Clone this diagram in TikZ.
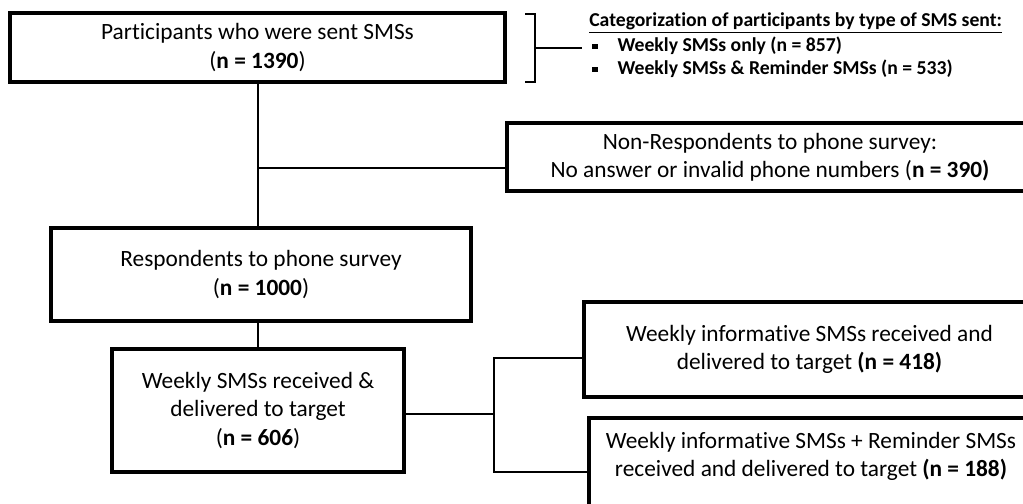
\documentclass[tikz,border=0pt]{standalone}
\usepackage{fontspec}
\setmainfont{Carlito}[Ligatures=NoCommon]
\usetikzlibrary{positioning}
\newcommand{\pxu}{0.025cm}
\newcommand{\sqb}{\rule[0.3ex]{0.55ex}{0.55ex}}
\tikzset{
  box/.style={draw, line width=2.9pt, align=center, inner sep=0pt, font=\fontsize{16.6}{20}\selectfont},
  boxtext/.style={align=center, inner sep=0pt, font=\fontsize{16.6}{20}\selectfont},
  link/.style={line width=2.1pt},
  legend/.style={anchor=west, inner sep=0pt, font=\fontsize{14}{16}\selectfont\bfseries}
}
\begin{document}
\begin{tikzpicture}[x=\pxu, y=-\pxu]
  \useasboundingbox (0,0) rectangle (1023,504);
  \clip (0,0) rectangle (1023,504);

  % Boxes
  \node[box, minimum width=495*\pxu, minimum height=69*\pxu] (sent) at (257.5,47.5)
    {Participants who were sent SMSs\\(\textbf{n = 1390})};
  \node[box, minimum width=526*\pxu, minimum height=68*\pxu] (nonresp) at (770,157)
    {Non-Respondents to phone survey:\\No answer or invalid phone numbers (\textbf{n = 390)}};
  \node[box, minimum width=420*\pxu, minimum height=93*\pxu] (resp) at (261,274.5)
    {Respondents to phone survey\\(\textbf{n = 1000})};
  \node[box, minimum width=292*\pxu, minimum height=123*\pxu] (weekly) at (258,410.5)
    {Weekly SMSs received \&\\delivered to target\\(\textbf{n = 606})};
  \node[box, minimum width=451*\pxu, minimum height=95*\pxu] (info) at (809.5,349.5)
    {Weekly informative SMSs received and\\delivered to target \textbf{(n = 418)}};
  \node[box, minimum width=448*\pxu, minimum height=130*\pxu, anchor=north west] (remind) at (587,416) {};
  \node[boxtext] (remindtxt) at (811,456)
    {Weekly informative SMSs + Reminder SMSs\\received and delivered to target \textbf{(n = 188)}};

  % Connectors
  \coordinate (split) at (258,168);
  \coordinate (fork) at (494,414);
  \draw[link] (sent.south -| split) -- (resp.north -| split);
  \draw[link] (split) -- (split -| nonresp.west);
  \draw[link] (resp.south -| weekly.north) -- (weekly.north);
  \draw[link] (weekly.east |- fork) -- (fork);
  \draw[link] (info.west |- 0,358) -| (fork) |- (remind.west |- 0,472);

  % Legend
  \node[legend] (cathead) at (589,23) {\underline{Categorization of participants by type of SMS sent:}};
  \node[legend] (catA) at (592,46) {\sqb\hspace{0.5cm}Weekly SMSs only (n = 857)};
  \node[legend] (catB) at (592,69) {\sqb\hspace{0.5cm}Weekly SMSs \& Reminder SMSs (n = 533)};
  \draw[link] (525,14) -- (535,14) -- (535,82) -- (525,82);
  \draw[link, shorten >=10*\pxu] (535,48) -- (catA.west |- 0,48);
\end{tikzpicture}
\end{document}
